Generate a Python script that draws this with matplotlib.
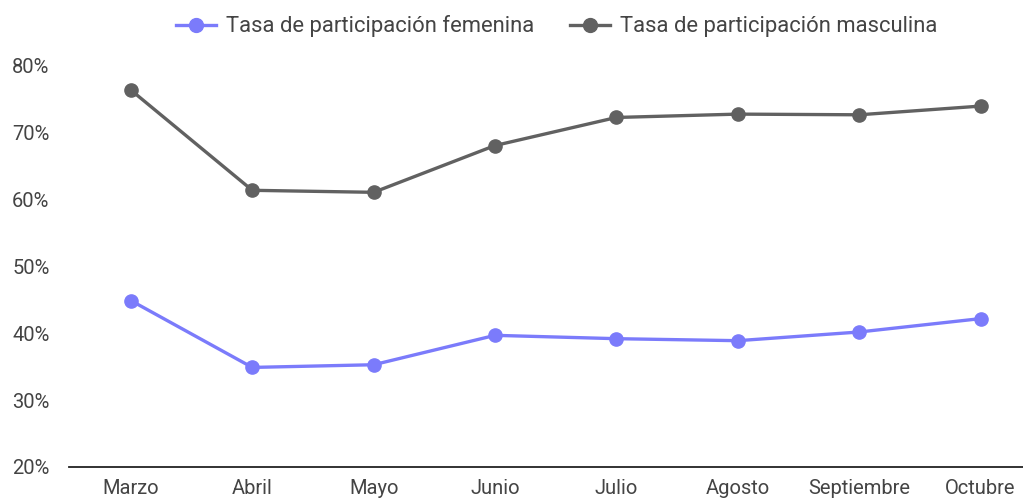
import matplotlib.pyplot as plt
from matplotlib.ticker import FuncFormatter

plt.rcParams['font.family'] = ['Roboto', 'DejaVu Sans']

meses = ["Marzo", "Abril", "Mayo", "Junio", "Julio", "Agosto", "Septiembre", "Octubre"]
tasa_femenina = [44.9, 34.9, 35.3, 39.7, 39.2, 38.9, 40.2, 42.2]
tasa_masculina = [76.4, 61.4, 61.1, 68.1, 72.3, 72.8, 72.7, 74.0]
y_ticks = [20, 30, 40, 50, 60, 70, 80]

col_fem = "#7b7bfb"
col_masc = "#616161"
col_text = "#444444"
fs = 14.5

fig = plt.figure(figsize=(10.23, 5.01), dpi=100)
ax = fig.add_axes([69 / 1023, 34 / 501, 954 / 1023, 401 / 501])

x = range(len(meses))
ax.plot(x, tasa_femenina, color=col_fem, lw=2.4, marker="o", ms=9.5,
        label="Tasa de participación femenina", clip_on=False)
ax.plot(x, tasa_masculina, color=col_masc, lw=2.4, marker="o", ms=9.5,
        label="Tasa de participación masculina", clip_on=False)

ax.set_xlim(-0.51, 7.35)
ax.set_ylim(20, 80)
ax.set_xticks(list(x))
ax.set_xticklabels(meses)
ax.set_yticks(y_ticks)
ax.yaxis.set_major_formatter(FuncFormatter(lambda v, p: f"{v:.0f}%"))

for s in ["top", "right", "left"]:
    ax.spines[s].set_visible(False)
ax.spines["bottom"].set_color("#222222")
ax.spines["bottom"].set_linewidth(1.3)
ax.tick_params(axis="both", length=0, labelsize=fs, colors=col_text)
ax.tick_params(axis="x", pad=9)
ax.tick_params(axis="y", pad=41)
for lbl in ax.get_yticklabels():
    lbl.set_horizontalalignment("left")

fig.legend(loc="upper center", bbox_to_anchor=(0.544, 1.009), ncol=2, frameon=False,
           fontsize=15.8, labelcolor=col_text, handlelength=1.85, columnspacing=1.6,
           handletextpad=0.45, markerscale=1.05)

fig.savefig("out.png", dpi=100)
